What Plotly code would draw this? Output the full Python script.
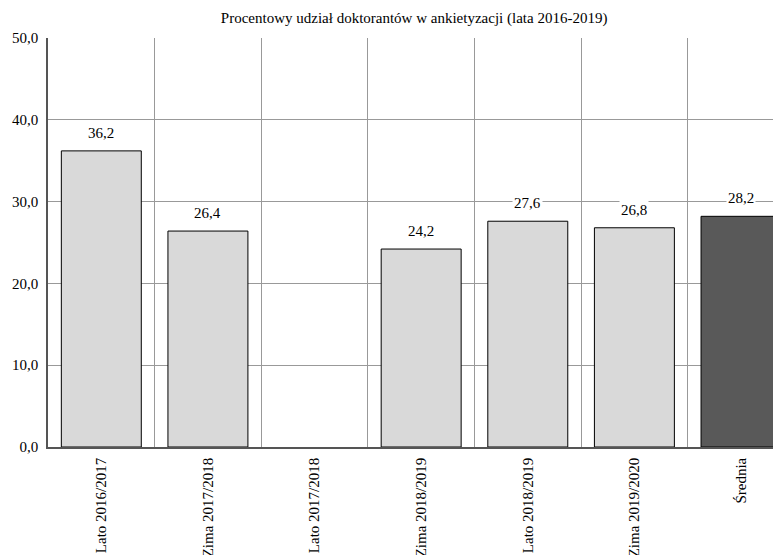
import plotly.graph_objects as go

categories = ["Lato 2016/2017", "Zima 2017/2018", "Lato 2017/2018", "Zima 2018/2019",
              "Lato 2018/2019", "Zima 2019/2020", "Średnia"]
values = [36.2, 26.4, None, 24.2, 27.6, 26.8, 28.2]
colors = ["#d9d9d9"] * 6 + ["#595959"]
title = "Procentowy udział doktorantów w ankietyzacji (lata 2016-2019)"

SERIF = "Liberation Serif, Times New Roman, serif"

fig = go.Figure()
fig.add_trace(go.Bar(
    x=categories, y=values,
    marker=dict(color=colors, line=dict(color="#000000", width=1)),
    width=0.75,
))

for c, v in zip(categories, values):
    if v is None:
        continue
    fig.add_annotation(x=c, y=v, text=f"{v:.1f}".replace(".", ","), showarrow=False,
                       yanchor="bottom", yshift=8, bgcolor="white",
                       font=dict(family=SERIF, size=15, color="#000"))

fig.update_layout(
    width=781, height=555,
    margin=dict(l=40, r=0, t=30, b=116),
    plot_bgcolor="white", paper_bgcolor="white",
    separators=", ",
    showlegend=False,
    title=dict(text=title, x=0.52, xanchor="center", y=0.982, yanchor="middle",
               font=dict(family=SERIF, size=15, color="#000")),
    font=dict(family=SERIF, size=15, color="#000"),
)
fig.update_xaxes(
    type="category", range=[-0.5, 6.45], tickson="boundaries",
    showgrid=True, gridcolor="#999999", gridwidth=1,
    showline=True, linecolor="#555555", linewidth=1.5,
    ticks="", tickangle=-90, automargin=False, ticklabelstandoff=3,
    tickfont=dict(family=SERIF, size=15, color="#000"),
)
fig.update_yaxes(
    range=[0, 50], dtick=10, tickformat=".1f",
    showgrid=True, gridcolor="#999999", gridwidth=1,
    showline=True, linecolor="#555555", linewidth=1.5,
    ticks="", automargin=False, zeroline=False, ticklabelstandoff=5,
    tickfont=dict(family=SERIF, size=15, color="#000"),
)

fig.write_html("out.html")
